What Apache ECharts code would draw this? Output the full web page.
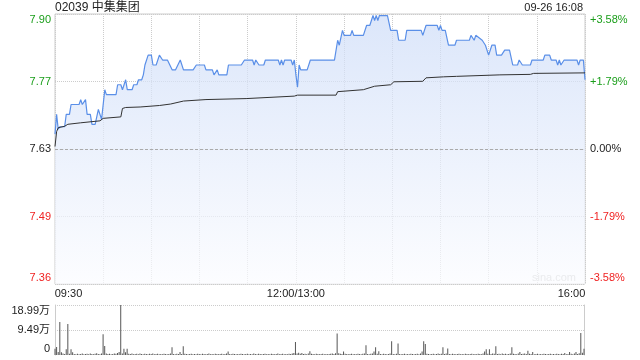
<!DOCTYPE html>
<html>
<head>
<meta charset="utf-8">
<script src="https://cdn.jsdelivr.net/npm/echarts@6/dist/echarts.min.js"></script>
<style>
html,body{margin:0;padding:0;background:#fff;}
#c{width:640px;height:360px;}
</style>
</head>
<body>
<div id="c"></div>
<script>
// ---- data ----
var stockTitle = '02039 中集集团';
var stampText = '09-26 16:08';
var preClose = 7.63;
var pctRange = 3.58;
var pctStep = 1.79;
var priceTickLabels = ['7.36', '7.49', '7.63', '7.77', '7.90'];
var pctTickLabels = ['-3.58%', '-1.79%', '0.00%', '+1.79%', '+3.58%'];
var timeTickMinutes = [0, 150, 330];
var timeTickLabels = ['09:30', '12:00/13:00', '16:00'];
var volMax = 18.99; // 万
var volTickLabels = ['0', '9.49万', '18.99万'];

// price line: minute index (09:30 = 0, 12:00/13:00 = 150, 16:00 = 330) and price
var priceMinutes = [0,1,2,3,6,7,9,10,15,16,17,19,20,22,23,25,27,29,31,32,38,39,41,42,43,44,45,48,49,51,52,54,55,56,58,60,61,63,65,66,67,70,73,75,78,80,86,88,93,94,98,99,101,102,107,108,116,118,123,124,125,127,130,131,139,140,141,142,143,147,148,149,150,151,152,153,157,159,174,176,177,178,179,180,184,185,186,192,194,196,198,199,200,201,202,207,209,213,214,218,219,228,229,231,238,239,240,241,243,245,249,250,258,259,260,261,262,263,266,268,270,272,274,275,278,280,283,285,288,289,291,296,297,304,305,308,309,312,313,314,315,317,325,326,327,329,330];
var priceValues = [7.66,7.70,7.67,7.675,7.675,7.70,7.70,7.72,7.72,7.73,7.72,7.73,7.70,7.70,7.68,7.68,7.71,7.69,7.75,7.74,7.74,7.76,7.76,7.75,7.75,7.77,7.75,7.75,7.76,7.76,7.77,7.77,7.78,7.80,7.82,7.82,7.80,7.80,7.82,7.82,7.81,7.81,7.79,7.79,7.81,7.79,7.79,7.80,7.80,7.79,7.79,7.78,7.79,7.78,7.78,7.80,7.80,7.81,7.81,7.80,7.81,7.80,7.80,7.81,7.81,7.80,7.81,7.80,7.81,7.81,7.80,7.81,7.78,7.755,7.80,7.79,7.79,7.81,7.81,7.85,7.84,7.84,7.87,7.86,7.86,7.87,7.86,7.86,7.88,7.88,7.90,7.89,7.90,7.89,7.90,7.90,7.87,7.87,7.85,7.85,7.87,7.87,7.86,7.88,7.88,7.87,7.88,7.87,7.87,7.84,7.84,7.85,7.85,7.86,7.86,7.85,7.86,7.86,7.85,7.84,7.82,7.84,7.84,7.82,7.82,7.83,7.83,7.80,7.80,7.81,7.80,7.80,7.81,7.81,7.82,7.82,7.81,7.81,7.80,7.81,7.80,7.81,7.81,7.80,7.81,7.81,7.77];

// average price line
var avgMinutes = [0,1,2,6,8,16,28,30,41,42,44,53,65,72,80,94,119,149,151,175,176,192,199,209,211,229,231,242,250,277,296,298,330];
var avgValues = [7.635,7.665,7.673,7.676,7.68,7.683,7.687,7.692,7.695,7.712,7.714,7.715,7.718,7.721,7.727,7.73,7.732,7.737,7.739,7.739,7.746,7.75,7.757,7.76,7.766,7.767,7.774,7.776,7.777,7.78,7.781,7.783,7.784];

// volume per minute (万股), minute 0..330
var volumes = [
2.4,3.0,1.1,12.5,1.0,0.6,0.4,2.2,11.8,0.5,
2.2,1.0,0.4,0.3,0.5,0.3,0.4,0.6,0.3,0.4,
0.5,0.3,0.6,0.4,0.3,0.5,0.7,0.4,0.3,0.6,
7.9,3.4,0.6,0.4,0.5,0.3,0.4,0.6,0.5,0.8,
1.1,18.99,0.6,2.4,1.0,2.4,0.5,0.4,0.6,0.3,
0.4,0.5,0.3,0.6,0.4,0.3,0.5,0.4,0.3,0.5,
0.4,0.6,0.3,0.4,0.5,0.3,0.4,0.3,0.5,0.4,
0.3,0.4,0.6,2.9,0.4,0.3,0.5,0.4,1.1,0.4,
3.3,0.5,0.4,0.3,0.4,0.5,0.3,0.4,0.3,0.5,
0.4,0.3,0.5,0.4,0.3,0.4,0.6,0.3,0.4,0.3,
0.5,0.4,0.3,0.4,0.5,0.3,0.4,0.6,1.3,0.4,
0.3,0.5,0.4,0.3,0.4,0.3,0.5,0.4,0.3,0.4,
0.5,0.3,0.4,0.3,0.6,0.4,0.3,0.5,0.4,0.3,
0.4,0.5,0.3,0.4,0.3,0.5,0.4,0.3,0.4,0.6,
0.3,0.4,0.5,0.3,0.4,0.3,0.5,0.4,0.6,0.8,
4.9,0.6,0.9,0.5,0.8,0.4,0.5,0.3,0.6,1.4,
0.5,0.4,0.3,0.5,0.4,0.3,0.4,0.5,0.3,0.4,
0.3,0.4,0.5,0.6,0.4,0.7,8.2,0.7,0.5,0.4,
1.3,0.5,0.4,0.3,0.4,0.5,0.3,0.4,0.3,0.5,
0.4,0.3,0.5,0.6,3.7,0.4,0.3,0.5,0.6,1.3,
2.9,0.5,1.4,0.4,0.3,0.5,0.4,0.3,0.4,0.6,
5.2,0.4,0.3,0.5,4.4,0.4,0.3,0.4,0.5,0.3,
0.4,0.3,0.5,0.4,0.3,0.4,0.5,0.3,0.6,1.3,
5.2,4.2,0.5,0.4,0.3,0.4,0.5,0.3,0.4,0.6,
0.4,0.5,2.9,0.4,0.6,2.5,0.4,0.3,0.5,0.4,
0.3,0.4,0.5,0.3,0.4,0.3,0.5,0.4,0.3,0.4,
0.5,0.3,0.4,0.3,0.5,0.4,0.3,0.6,1.3,2.2,
0.5,2.2,0.4,0.6,0.5,3.3,0.4,0.5,0.3,0.6,
0.4,0.5,0.3,0.4,0.6,2.9,0.5,0.4,0.3,0.6,
1.1,0.4,0.5,0.6,0.4,1.6,0.5,0.4,1.1,0.3,
0.4,0.5,0.3,0.4,0.3,0.5,0.4,0.3,0.4,0.5,
0.3,0.4,0.3,0.5,0.4,0.3,0.5,0.4,0.8,0.3,
0.4,1.1,0.5,0.3,0.6,1.1,0.4,0.7,8.4,0.9,
2.4
];

// ---- build ----
function toPct(p) { return (p / preClose - 1) * 100; }
var priceData = priceMinutes.map(function (m, i) { return [m, toPct(priceValues[i])]; });
var avgData = avgMinutes.map(function (m, i) { return [m, toPct(avgValues[i])]; });
var volData = volumes.map(function (v, i) { return [i, v]; });

var FONT = 'Arial, "Liberation Sans", "Noto Sans CJK SC", sans-serif';
var GREEN = '#1a9e1a', RED = '#f02222', DARK = '#222';
var richY = {
  gt: { color: GREEN, fontSize: 11, fontFamily: FONT, padding: [12, 0, 0, 0] },
  g: { color: GREEN, fontSize: 11, fontFamily: FONT },
  k: { color: DARK, fontSize: 11, fontFamily: FONT },
  r: { color: RED, fontSize: 11, fontFamily: FONT },
  rb: { color: RED, fontSize: 11, fontFamily: FONT, padding: [0, 0, 13, 0] }
};
var styleKeys = ['rb', 'r', 'k', 'g', 'gt'];
function tickIndex(v) { return Math.round((v + pctRange) / pctStep); }

var chart = echarts.init(document.getElementById('c'), null, { renderer: 'canvas' });
chart.setOption({
  animation: false,
  backgroundColor: '#fff',
  textStyle: { fontFamily: FONT },
  title: [
    { text: stockTitle, left: 55, top: 2, padding: 0,
      textStyle: { fontSize: 12, fontWeight: 'normal', color: '#222', fontFamily: FONT } },
    { text: stampText, right: 57, top: 2, padding: 0,
      textStyle: { fontSize: 11, fontWeight: 'normal', color: '#222', fontFamily: FONT } }
  ],
  graphic: [
    { type: 'text', left: 532, top: 272, silent: true,
      style: { text: 'sina.com', fill: '#c4c4c4', fontSize: 11, fontFamily: FONT } }
  ],
  grid: [
    { left: 55, right: 55, top: 14, height: 270, show: true, borderColor: '#ccc', borderWidth: 1, containLabel: false },
    { left: 55, right: 56, top: 305, height: 50, show: false, containLabel: false }
  ],
  xAxis: [
    { type: 'value', gridIndex: 0, min: 0, max: 330, interval: 30,
      axisLine: { show: false }, axisTick: { show: false },
      splitLine: { show: true, lineStyle: { color: '#ccc', type: 'dotted', width: 1 } },
      axisLabel: {
        margin: 4, fontSize: 11, color: '#222', fontFamily: FONT, showMinLabel: true, showMaxLabel: true,
        formatter: function (v) {
          var i = timeTickMinutes.indexOf(v);
          if (i < 0) return '';
          if (i === 0) return '{l|' + timeTickLabels[i] + '}';
          if (i === timeTickMinutes.length - 1) return '{rr|' + timeTickLabels[i] + '}';
          return '{c|' + timeTickLabels[i] + '}';
        },
        rich: {
          l: { fontSize: 11, color: '#222', fontFamily: FONT, padding: [0, 0, 0, 27] },
          rr: { fontSize: 11, color: '#222', fontFamily: FONT, padding: [0, 27, 0, 0] },
          c: { fontSize: 11, color: '#222', fontFamily: FONT }
        }
      } },
    { type: 'value', gridIndex: 1, min: 0, max: 330,
      axisLine: { show: false }, axisTick: { show: false }, axisLabel: { show: false }, splitLine: { show: false } }
  ],
  yAxis: [
    { type: 'value', gridIndex: 0, min: -pctRange, max: pctRange, interval: pctStep,
      axisLine: { show: false }, axisTick: { show: false },
      splitLine: { show: true, lineStyle: { color: '#ccc', type: 'dotted', width: 1 } },
      axisLabel: { margin: 4, rich: richY,
        formatter: function (v) { var i = tickIndex(v); return '{' + styleKeys[i] + '|' + priceTickLabels[i] + '}'; } } },
    { type: 'value', gridIndex: 0, position: 'right', min: -pctRange, max: pctRange, interval: pctStep,
      axisLine: { show: false }, axisTick: { show: false }, splitLine: { show: false },
      axisLabel: { margin: 5, rich: richY,
        formatter: function (v) { var i = tickIndex(v); return '{' + styleKeys[i] + '|' + pctTickLabels[i] + '}'; } } },
    { type: 'value', gridIndex: 1, min: 0, max: volMax, interval: volMax / 2,
      axisLine: { show: true, lineStyle: { color: '#ccc' } }, axisTick: { show: false },
      splitLine: { show: true, lineStyle: { color: ['rgba(0,0,0,0)', '#ccc', '#ccc'], type: 'dotted', width: 1 } },
      axisLabel: { margin: 5,
        formatter: function (v) { var i = Math.round(v / (volMax / 2)); return '{' + (i === 0 ? 'b' : (i === 2 ? 't' : 'm')) + '|' + volTickLabels[i] + '}'; },
        rich: {
          t: { color: '#222', fontSize: 11, fontFamily: FONT, padding: [12, 0, 0, 0] },
          m: { color: '#222', fontSize: 11, fontFamily: FONT },
          b: { color: '#222', fontSize: 11, fontFamily: FONT, padding: [0, 0, 13, 0] }
        } } },
    { type: 'value', gridIndex: 1, position: 'right', min: 0, max: volMax,
      axisLine: { show: true, lineStyle: { color: '#ccc' } }, axisTick: { show: false },
      axisLabel: { show: false }, splitLine: { show: false } }
  ],
  series: [
    { type: 'line', name: 'price', xAxisIndex: 0, yAxisIndex: 0, data: priceData,
      symbol: 'none', silent: true,
      lineStyle: { color: '#5a8fe8', width: 1.2 },
      areaStyle: { origin: 'start', color: new echarts.graphic.LinearGradient(0, 0, 0, 1, [
        { offset: 0, color: '#cddcf8' }, { offset: 1, color: '#fbfcff' }]) },
      markLine: { silent: true, symbol: 'none', label: { show: false },
        lineStyle: { color: '#aaa', type: [3, 2], width: 1 }, data: [{ yAxis: 0 }] },
      z: 3 },
    { type: 'line', name: 'avg', xAxisIndex: 0, yAxisIndex: 0, data: avgData,
      symbol: 'none', silent: true, lineStyle: { color: '#333', width: 1 }, z: 4 },
    { type: 'bar', name: 'vol', xAxisIndex: 1, yAxisIndex: 2, data: volData,
      barWidth: 1, silent: true, itemStyle: { color: '#555' } }
  ]
});
</script>
</body>
</html>
